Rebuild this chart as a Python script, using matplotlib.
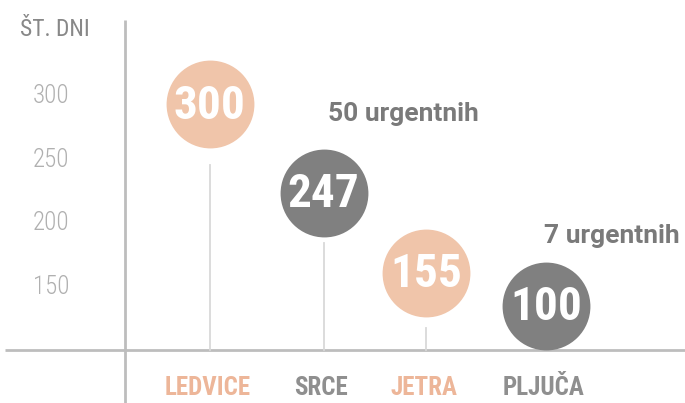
import matplotlib.pyplot as plt
from matplotlib import font_manager

# data
organs = ['LEDVICE', 'SRCE', 'JETRA', 'PLJUČA']
days = [300, 247, 155, 100]
urgent_notes = ['50 urgentnih', '', '', '7 urgentnih']
yticks = [150, 200, 250, 300]

# layout of the infographic (bubble centres / stem tops, in data units)
xpos = [0, 1.0, 1.9, 2.95]
bubble_y = [293.5, 224, 161, 134.5]
stem_top = [246, 184, 117, None]

peach = '#F0C5AA'
grey = '#808080'
label_colors = ['#EDB699', '#8f8f8f', '#EDB699', '#8f8f8f']
bubble_colors = [peach, grey, peach, grey]

names = {f.name for f in font_manager.fontManager.ttflist}
narrow = 'Roboto'
for cand in ['Roboto Condensed', 'Barlow Condensed', 'Liberation Sans Narrow', 'Arial Narrow']:
    if cand in names:
        narrow = cand
        break

fig = plt.figure(figsize=(6.85, 4.03), dpi=100)
ax = fig.add_axes([0, 0, 1, 1])
ax.set_xlim(-1.84, 4.17)
ax.set_ylim(58.3, 375.6)
ax.axis('off')

# axes lines
ax.plot([-1.80, 4.17], [100, 100], color='#bdbdbd', lw=2, solid_capstyle='butt')
ax.plot([-0.74, -0.74], [58.3, 360], color='#bdbdbd', lw=2, solid_capstyle='butt')

# stems
for x, top in zip(xpos, stem_top):
    if top is not None:
        ax.plot([x, x], [100, top], color='#d9d9d9', lw=1.3)

# bubbles
for x, y, v, c in zip(xpos, bubble_y, days, bubble_colors):
    ax.scatter(x, y, s=4000, color=c, zorder=3, linewidths=0)
    ax.text(x, y - 1, str(v), ha='center', va='center', color='white',
            fontsize=34, fontweight='bold', family=narrow, zorder=4)

# category labels
for x, name, c in zip(xpos, organs, label_colors):
    ax.text(x - 0.02, 70, name, ha='center', va='center', color=c,
            fontsize=18, fontweight='bold', family=narrow)

# y tick labels
for t in yticks:
    ax.text(-1.23, t, str(t), ha='right', va='center', color='#b0b0b0',
            fontsize=18, fontweight='light', family=narrow)
ax.text(-1.05, 352, 'ŠT. DNI', ha='right', va='center', color='#888888',
        fontsize=17, family=narrow)

# urgent notes
ax.text(1.70, 286, urgent_notes[0], ha='center', va='center', color='#7a7a7a',
        fontsize=19, fontweight='bold', family='Roboto')
ax.text(3.53, 190, urgent_notes[3], ha='center', va='center', color='#7a7a7a',
        fontsize=19, fontweight='bold', family='Roboto')

fig.savefig('out.png', dpi=100)
